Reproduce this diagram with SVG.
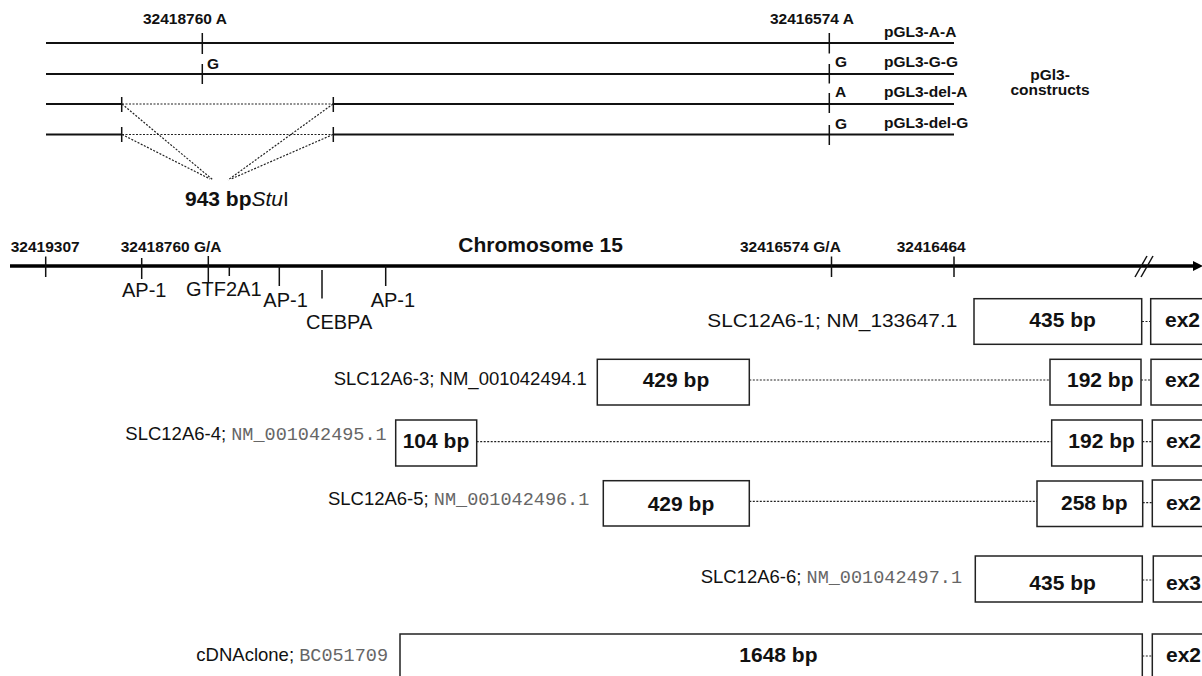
<svg xmlns="http://www.w3.org/2000/svg" width="1202" height="676" viewBox="0 0 1202 676">
<style>
.ln{stroke:#111;stroke-width:1.8;fill:none}
.tk{stroke:#111;stroke-width:1.5;fill:none}
.dt{stroke:#222;stroke-width:1.2;stroke-dasharray:2 1.5;fill:none}
.bx{fill:#fff;stroke:#222;stroke-width:1.5}
.sb{font-family:"Liberation Sans",Arial,sans-serif;font-weight:bold;font-size:15.5px;fill:#111}
.bb{font-family:"Liberation Sans",Arial,sans-serif;font-weight:bold;font-size:21px;fill:#111}
.rg{font-family:"Liberation Sans",Arial,sans-serif;font-size:20px;fill:#111}
.lab{font-family:"Liberation Sans",Arial,sans-serif;font-size:18.5px;fill:#111}
.mono{font-family:"Liberation Mono","Courier New",monospace;font-size:18.5px;fill:#666}
</style>
<rect width="1202" height="676" fill="#fff"/>

<g id="constructs">
  <line class="ln" x1="46" y1="43" x2="954" y2="43"/>
  <line class="ln" x1="46" y1="74" x2="954" y2="74"/>
  <line class="ln" x1="46" y1="104" x2="122" y2="104"/>
  <line class="ln" x1="333" y1="104" x2="954" y2="104"/>
  <line class="ln" x1="46" y1="134.5" x2="122" y2="134.5"/>
  <line class="ln" x1="333" y1="134.5" x2="954" y2="134.5"/>
  <line class="tk" x1="202.3" y1="33" x2="202.3" y2="54"/>
  <line class="tk" x1="202.3" y1="64" x2="202.3" y2="84"/>
  <line class="tk" x1="829.3" y1="33" x2="829.3" y2="53.5"/>
  <line class="tk" x1="829.3" y1="64" x2="829.3" y2="83.5"/>
  <line class="tk" x1="829.3" y1="93" x2="829.3" y2="113"/>
  <line class="tk" x1="829.3" y1="125" x2="829.3" y2="145"/>
  <line class="tk" x1="121.7" y1="97" x2="121.7" y2="112"/>
  <line class="tk" x1="333.3" y1="97" x2="333.3" y2="112"/>
  <line class="tk" x1="121.7" y1="127" x2="121.7" y2="142"/>
  <line class="tk" x1="333.3" y1="127" x2="333.3" y2="142"/>
  <text class="sb" x="143" y="24">32418760 A</text>
  <text class="sb" x="770" y="23.5">32416574 A</text>
  <text class="sb" x="207" y="68.5">G</text>
  <text class="sb" x="835" y="66.7">G</text>
  <text class="sb" x="835" y="96.7">A</text>
  <text class="sb" x="835" y="129">G</text>
  <text class="sb" x="884" y="36.7">pGL3-A-A</text>
  <text class="sb" x="884" y="66.7">pGL3-G-G</text>
  <text class="sb" x="884" y="96.7">pGL3-del-A</text>
  <text class="sb" x="884" y="128.3">pGL3-del-G</text>
  <text class="sb" x="1050" y="80" text-anchor="middle">pGl3-</text>
  <text class="sb" x="1050" y="95" text-anchor="middle">constructs</text>
</g>

<g id="deletion">
  <line class="dt" x1="122" y1="104" x2="333" y2="104"/>
  <line class="dt" x1="122" y1="134.5" x2="333" y2="134.5"/>
  <line class="dt" x1="122" y1="104" x2="213" y2="180"/>
  <line class="dt" x1="122" y1="134.5" x2="210" y2="179"/>
  <line class="dt" x1="333" y1="104" x2="228" y2="180"/>
  <line class="dt" x1="333" y1="134.5" x2="231" y2="179"/>
  <text class="bb" x="185" y="206">943 bp<tspan font-style="italic" font-weight="normal">Stu</tspan><tspan font-weight="normal">I</tspan></text>
</g>

<g id="chromosome">
  <line x1="10" y1="266" x2="1195" y2="266" stroke="#000" stroke-width="3.5"/>
  <polygon points="1193,261 1203,266 1193,271" fill="#000"/>
  <line class="tk" x1="1135" y1="277" x2="1147" y2="256"/>
  <line class="tk" x1="1141" y1="277" x2="1153" y2="256"/>
  <line class="tk" x1="45.7" y1="256.5" x2="45.7" y2="277"/>
  <line class="tk" x1="141.7" y1="258" x2="141.7" y2="279"/>
  <line class="tk" x1="208.3" y1="256" x2="208.3" y2="283"/>
  <line class="tk" x1="229.3" y1="266" x2="229.3" y2="276"/>
  <line class="tk" x1="279.3" y1="266" x2="279.3" y2="286"/>
  <line class="tk" x1="322" y1="270" x2="322" y2="298.5"/>
  <line class="tk" x1="385.7" y1="266" x2="385.7" y2="286"/>
  <line class="tk" x1="831.5" y1="256.5" x2="831.5" y2="277"/>
  <line class="tk" x1="954" y1="256.5" x2="954" y2="277"/>
  <text class="sb" x="10.7" y="251.7">32419307</text>
  <text class="sb" x="120.7" y="251.7">32418760 G/A</text>
  <text class="sb" x="740" y="252.3">32416574 G/A</text>
  <text class="sb" x="896.7" y="252">32416464</text>
  <text class="bb" x="458.3" y="251.7">Chromosome 15</text>
  <text class="rg" x="122" y="297.3">AP-1</text>
  <text class="rg" x="186" y="296">GTF2A1</text>
  <text class="rg" x="263.3" y="307.3">AP-1</text>
  <text class="rg" x="306" y="329">CEBPA</text>
  <text class="rg" x="370.7" y="307.3">AP-1</text>
</g>

<g id="connectors">
  <line class="dt" x1="1142" y1="321.5" x2="1151" y2="321.5"/>
  <line class="dt" x1="749.3" y1="380" x2="1050" y2="380"/>
  <line class="dt" x1="1141" y1="380" x2="1151" y2="380"/>
  <line class="dt" x1="476.7" y1="441.7" x2="1051.7" y2="441.7"/>
  <line class="dt" x1="1142.3" y1="441.7" x2="1152.3" y2="441.7"/>
  <line class="dt" x1="749.3" y1="501.3" x2="1037" y2="501.3"/>
  <line class="dt" x1="1142.7" y1="502.7" x2="1152.3" y2="502.7"/>
  <line class="dt" x1="1142.3" y1="580" x2="1153.3" y2="580"/>
  <line class="dt" x1="1142.3" y1="656" x2="1152.3" y2="656"/>
</g>

<g id="slc12a6-1">
  <text class="lab" x="707.3" y="326.7" textLength="250" lengthAdjust="spacingAndGlyphs">SLC12A6-1; NM_133647.1</text>
  <rect class="bx" x="974" y="298.7" width="167.7" height="45.6"/>
  <text class="bb" x="1029.3" y="326.7">435 bp</text>
  <rect class="bx" x="1150.7" y="298.7" width="70" height="45.6"/>
  <text class="bb" x="1165" y="326.7">ex2</text>
</g>

<g id="slc12a6-3">
  <text class="lab" x="586.7" y="385" text-anchor="end">SLC12A6-3; NM_001042494.1</text>
  <rect class="bx" x="597.3" y="359.3" width="152" height="45.7"/>
  <text class="bb" x="642.7" y="386.7">429 bp</text>
  <rect class="bx" x="1050" y="359.3" width="91" height="45.7"/>
  <text class="bb" x="1067" y="386.7">192 bp</text>
  <rect class="bx" x="1151" y="359.3" width="70" height="45.7"/>
  <text class="bb" x="1165" y="386.7">ex2</text>
</g>

<g id="slc12a6-4">
  <text x="386.7" y="440" text-anchor="end"><tspan class="lab">SLC12A6-4; </tspan><tspan class="mono">NM_001042495.1</tspan></text>
  <rect class="bx" x="395.7" y="420" width="81" height="46"/>
  <text class="bb" x="402.7" y="448">104 bp</text>
  <rect class="bx" x="1051.7" y="420" width="90.6" height="46"/>
  <text class="bb" x="1068.3" y="448.3">192 bp</text>
  <rect class="bx" x="1152.3" y="420" width="70" height="46"/>
  <text class="bb" x="1166" y="448.3">ex2</text>
</g>

<g id="slc12a6-5">
  <text x="589.3" y="505" text-anchor="end"><tspan class="lab">SLC12A6-5; </tspan><tspan class="mono">NM_001042496.1</tspan></text>
  <rect class="bx" x="603.3" y="480.7" width="146" height="45.3"/>
  <text class="bb" x="647.7" y="510.7">429 bp</text>
  <rect class="bx" x="1037" y="481" width="105.7" height="45.5"/>
  <text class="bb" x="1061" y="510">258 bp</text>
  <rect class="bx" x="1152.3" y="480" width="70" height="46.5"/>
  <text class="bb" x="1166" y="510">ex2</text>
</g>

<g id="slc12a6-6">
  <text x="962" y="583" text-anchor="end"><tspan class="lab">SLC12A6-6; </tspan><tspan class="mono">NM_001042497.1</tspan></text>
  <rect class="bx" x="975.3" y="556" width="167" height="46"/>
  <text class="bb" x="1029.3" y="590">435 bp</text>
  <rect class="bx" x="1153.3" y="556" width="70" height="46"/>
  <text class="bb" x="1166" y="590">ex3</text>
</g>

<g id="cdna-clone">
  <text x="388" y="661" text-anchor="end"><tspan class="lab">cDNAclone; </tspan><tspan class="mono">BC051709</tspan></text>
  <rect class="bx" x="400" y="634" width="742.3" height="50"/>
  <text class="bb" x="739.3" y="662">1648 bp</text>
  <rect class="bx" x="1152.3" y="634" width="70" height="50"/>
  <text class="bb" x="1166" y="662">ex2</text>
</g>
</svg>
